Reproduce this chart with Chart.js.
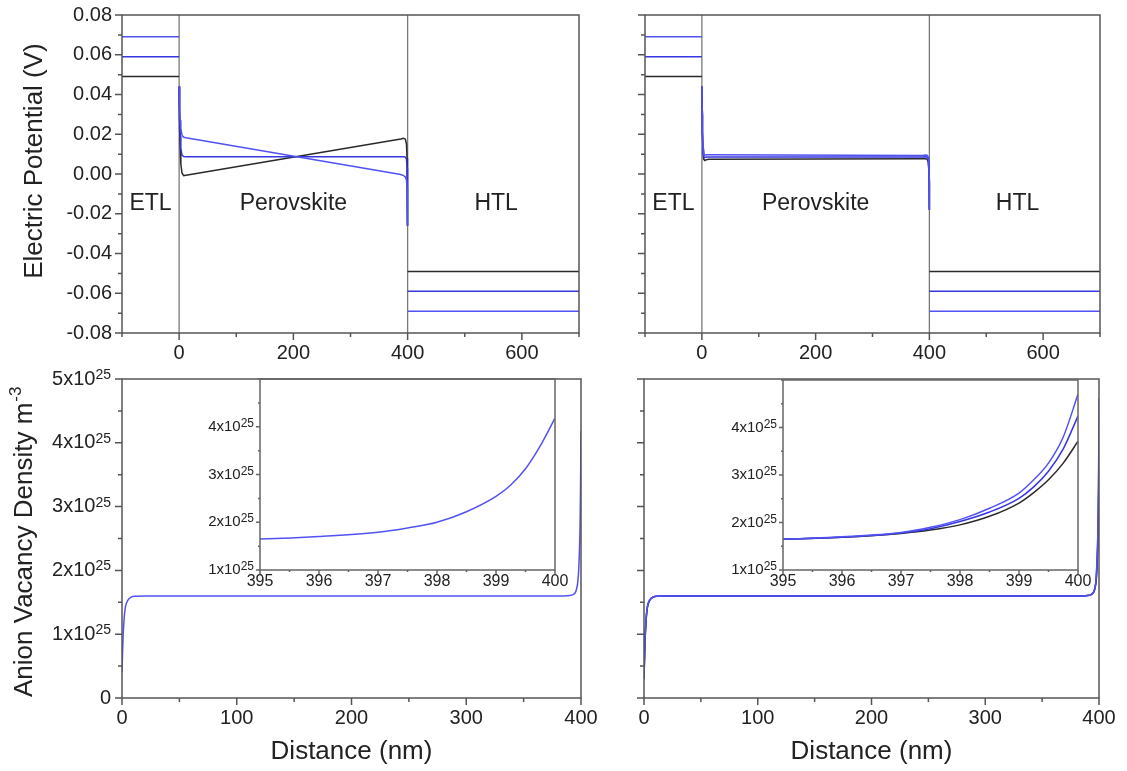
<!DOCTYPE html>
<html>
<head>
<meta charset="utf-8">
<title>Electric potential and anion vacancy density</title>
<script src="https://cdn.jsdelivr.net/npm/chart.js@4.4.0/dist/chart.umd.min.js"></script>
<style>
  body { margin: 0; background: #fff; }
  #fig { position: relative; width: 1127px; height: 771px; overflow: hidden; background: #fff; }
  #fig canvas { position: absolute; }
</style>
</head>
<body>
<div id="fig">
  <canvas id="potLeft" width="595" height="385" style="left:0;top:0"></canvas>
  <canvas id="potRight" width="527" height="385" style="left:600px;top:0"></canvas>
  <canvas id="vacLeft" width="600" height="411" style="left:0;top:360px"></canvas>
  <canvas id="vacRight" width="527" height="411" style="left:600px;top:360px"></canvas>
  <canvas id="zoomLeft" width="400" height="250" style="left:180px;top:360px"></canvas>
  <canvas id="zoomRight" width="400" height="250" style="left:703px;top:360px"></canvas>
</div>
<script>
const FONT = "'Liberation Sans', Arial, Helvetica, sans-serif";
const INK = '#222';
const BLACK = '#2a2a2a';
const BLUE_A = '#3535e2';
const BLUE_B = '#5252f3';
const GRAY = '#7a7a7a';

// ---- top row: electric potential (V) vs distance (nm) ----
const distMin = -100, distMax = 700;
const potMin = -0.08, potMax = 0.08;
const potTicks = [-0.08, -0.06, -0.04, -0.02, 0, 0.02, 0.04, 0.06, 0.08];
const distTicksTop = [0, 200, 400, 600];
const layerEdges = [0, 400];
const layerNames = ['ETL', 'Perovskite', 'HTL'];
const layerNameX = [-50, 200, 555];
const layerNameY = -0.015;

const etlX = [-100, 0];
const htlX = [400, 700];
const etlLevel = [0.049, 0.059, 0.069];      // black, blue, blue
const htlLevel = [-0.049, -0.059, -0.069];

const pvkX = [0, 0.5, 1, 2, 3, 5, 8, 12, 388, 393, 396, 398, 399, 399.5, 400];
const potL_black = [0.044, 0.033, 0.024, 0.012, 0.005, 0.0005, -0.0008, -0.0006, 0.0176, 0.018, 0.0175, 0.015, 0.008, -0.004, -0.026];
const potL_blue1 = [0.044, 0.035, 0.028, 0.019, 0.013, 0.0095, 0.0088, 0.0087, 0.0087, 0.0087, 0.0085, 0.0075, 0.003, -0.006, -0.026];
const potL_blue2 = [0.044, 0.038, 0.033, 0.027, 0.023, 0.0195, 0.0185, 0.0182, -0.0003, -0.0008, -0.0015, -0.003, -0.007, -0.012, -0.026];
const potR_black = [0.044, 0.030, 0.020, 0.011, 0.0075, 0.0068, 0.0072, 0.0074, 0.0077, 0.0077, 0.0074, 0.006, 0.002, -0.004, -0.018];
const potR_blue1 = [0.044, 0.031, 0.021, 0.012, 0.0088, 0.0082, 0.0085, 0.0086, 0.0086, 0.0087, 0.0085, 0.007, 0.003, -0.003, -0.018];
const potR_blue2 = [0.044, 0.032, 0.022, 0.013, 0.0098, 0.0095, 0.0097, 0.0097, 0.0093, 0.0095, 0.0094, 0.0085, 0.005, -0.002, -0.018];

// ---- bottom row: anion vacancy density (m^-3) vs distance (nm) ----
const posMin = 0, posMax = 400;
const vacMin = 0, vacMax = 5e25;
const posTicks = [0, 100, 200, 300, 400];
const vacTicks = [0, 1e25, 2e25, 3e25, 4e25, 5e25];
const zoomMin = 395, zoomMax = 400;
const zoomVacMin = 1e25, zoomVacMax = 5e25;
const zoomXTicks = [395, 396, 397, 398, 399, 400];
const zoomYTicks = [1e25, 2e25, 3e25, 4e25];

const vacX = [0, 0.5, 1, 2, 3, 5, 8, 12, 20, 385, 390, 393, 395, 396, 397, 397.5, 398, 398.5, 399, 399.25, 399.5, 399.75, 400];
const vacL = [0.40e25, 0.72e25, 0.98e25, 1.28e25, 1.43e25, 1.53e25, 1.58e25, 1.595e25, 1.6e25, 1.6e25, 1.605e25, 1.62e25, 1.65e25, 1.70e25, 1.79e25, 1.88e25, 2.0e25, 2.22e25, 2.54e25, 2.78e25, 3.12e25, 3.6e25, 4.18e25];
const vacR_black = [0.30e25, 0.62e25, 0.92e25, 1.25e25, 1.42e25, 1.53e25, 1.58e25, 1.595e25, 1.6e25, 1.6e25, 1.605e25, 1.62e25, 1.65e25, 1.69e25, 1.77e25, 1.84e25, 1.95e25, 2.13e25, 2.41e25, 2.63e25, 2.90e25, 3.25e25, 3.71e25];
const vacR_blue1 = [0.33e25, 0.66e25, 0.95e25, 1.27e25, 1.43e25, 1.53e25, 1.58e25, 1.595e25, 1.6e25, 1.6e25, 1.605e25, 1.62e25, 1.65e25, 1.69e25, 1.78e25, 1.87e25, 2.02e25, 2.22e25, 2.51e25, 2.75e25, 3.08e25, 3.55e25, 4.24e25];
const vacR_blue2 = [0.36e25, 0.70e25, 0.98e25, 1.29e25, 1.44e25, 1.54e25, 1.58e25, 1.595e25, 1.6e25, 1.6e25, 1.605e25, 1.62e25, 1.65e25, 1.70e25, 1.79e25, 1.90e25, 2.06e25, 2.30e25, 2.62e25, 2.90e25, 3.25e25, 3.80e25, 4.70e25];


function isIn(v, arr) {
  return arr.some(a => Math.abs(a - v) <= Math.abs(a) * 1e-9 + 1e-12);
}

// frame, outward major/minor ticks, superscript labels and free text
const decor = {
  id: 'decor',
  afterDraw(chart, args, o) {
    const { ctx, chartArea: a, scales: { x, y } } = chart;
    ctx.save();
    ctx.strokeStyle = o.edge;
    ctx.lineWidth = 1.5;
    ctx.strokeRect(a.left, a.top, a.right - a.left, a.bottom - a.top);

    ctx.beginPath();
    x.ticks.forEach(t => {
      const p = x.getPixelForValue(t.value);
      const len = isIn(t.value, o.xMajor) ? o.major : o.minor;
      ctx.moveTo(p, a.bottom);
      ctx.lineTo(p, a.bottom + len);
    });
    y.ticks.forEach(t => {
      const p = y.getPixelForValue(t.value);
      const len = isIn(t.value, o.yMajor) ? o.major : o.minor;
      ctx.moveTo(a.left, p);
      ctx.lineTo(a.left - len, p);
    });
    ctx.stroke();

    ctx.fillStyle = INK;
    if (o.sci) {
      const right = a.left - o.sci.gap;
      y.ticks.forEach(t => {
        if (!isIn(t.value, o.sci.labels)) return;
        const p = y.getPixelForValue(t.value);
        ctx.textBaseline = 'middle';
        if (t.value === 0) {
          ctx.font = `${o.sci.size}px ${FONT}`;
          ctx.textAlign = 'right';
          ctx.fillText('0', right, p);
          return;
        }
        const exp = Math.floor(Math.log10(t.value) + 1e-9);
        const man = Math.round(t.value / Math.pow(10, exp));
        ctx.font = `${o.sci.sup}px ${FONT}`;
        const sw = ctx.measureText(String(exp)).width;
        ctx.textAlign = 'left';
        ctx.textBaseline = 'alphabetic';
        ctx.fillText(String(exp), right - sw, p + o.sci.rise);
        ctx.font = `${o.sci.size}px ${FONT}`;
        ctx.textAlign = 'right';
        ctx.textBaseline = 'middle';
        ctx.fillText(`${man}x10`, right - sw, p);
      });
    }

    if (o.regions) {
      ctx.font = `23px ${FONT}`;
      ctx.textAlign = 'center';
      ctx.textBaseline = 'middle';
      layerNames.forEach((n, i) => {
        ctx.fillText(n, x.getPixelForValue(layerNameX[i]), y.getPixelForValue(layerNameY));
      });
    }

    if (o.yTitle) {
      const t = o.yTitle;
      ctx.translate(t.x, t.y);
      ctx.rotate(-Math.PI / 2);
      ctx.font = `26px ${FONT}`;
      ctx.textBaseline = 'middle';
      ctx.textAlign = t.sup ? 'left' : 'center';
      ctx.fillText(t.text, 0, 0);
      if (t.sup) {
        const w = ctx.measureText(t.text).width;
        ctx.font = `17px ${FONT}`;
        ctx.textAlign = 'left';
        ctx.fillText(t.sup, w + 1, -9);
      }
    }
    ctx.restore();
  }
};

function axis(o) {
  return {
    type: 'linear',
    position: o.pos,
    min: o.min,
    max: o.max,
    grid: { display: false, drawTicks: false },
    border: { display: false },
    afterBuildTicks(s) {
      const n = Math.round((o.max - o.min) / o.step);
      const vals = [];
      for (let i = 0; i <= n; i++) vals.push(Math.round((o.min + i * o.step) / o.step) * o.step);
      s.ticks = vals.map(value => ({ value }));
    },
    ticks: {
      display: !!o.fmt,
      autoSkip: false,
      maxRotation: 0,
      padding: o.pad || 0,
      color: INK,
      font: { family: FONT, size: o.size || 20 },
      callback: v => (o.fmt && isIn(v, o.labels)) ? o.fmt(v) : ''
    },
    title: o.title
      ? { display: true, text: o.title, color: INK, font: { family: FONT, size: 26 }, padding: { top: 0, bottom: 4 } }
      : { display: false },
    afterFit(s) {
      if (s.isHorizontal()) s.height = o.thick; else s.width = o.thick;
      s.paddingLeft = s.paddingRight = s.paddingTop = s.paddingBottom = 0;
    }
  };
}

function lineSet(points, color, order, extra) {
  return Object.assign({
    data: points, showLine: true, borderColor: color, borderWidth: 1.5,
    pointRadius: 0, tension: 0, fill: false, order
  }, extra || {});
}

function potentialSets(series) {
  const colors = [BLACK, BLUE_A, BLUE_B];
  const sets = layerEdges.map(e =>
    lineSet([{ x: e, y: potMin }, { x: e, y: potMax }], GRAY, 10, { borderWidth: 1.3 }));
  series.forEach((pvk, i) => {
    const pts = etlX.map(x => ({ x, y: etlLevel[i] }));
    pts.push({ x: 0, y: null });
    pvkX.forEach((x, j) => pts.push({ x, y: pvk[j] }));
    pts.push({ x: 400, y: null });
    htlX.forEach(x => pts.push({ x, y: htlLevel[i] }));
    sets.push(lineSet(pts, colors[i], 3 - i));
  });
  return sets;
}

function vacancySets(series, colors) {
  return series.map((vals, i) =>
    lineSet(vacX.map((x, j) => ({ x, y: vals[j] })), colors[i], series.length - i,
      { cubicInterpolationMode: 'monotone' }));
}

function makeChart(id, datasets, p) {
  return new Chart(document.getElementById(id), {
    type: 'scatter',
    data: { datasets },
    options: {
      responsive: false,
      animation: false,
      devicePixelRatio: 1,
      events: [],
      layout: { padding: Object.assign({ top: 0, right: 0, bottom: 0, left: 0 }, p.padding) },
      scales: { x: p.x, y: p.y },
      plugins: { legend: { display: false }, tooltip: { enabled: false }, decor: p.decor }
    },
    plugins: [decor]
  });
}

const potFmt = v => v.toFixed(2);
const intFmt = v => String(Math.round(v));

// top left
makeChart('potLeft', potentialSets([potL_black, potL_blue1, potL_blue2]), {
  padding: { top: 15, right: 16 },
  x: axis({ pos: 'bottom', min: distMin, max: distMax, step: 100, labels: distTicksTop, fmt: intFmt, pad: 8, thick: 52 }),
  y: axis({ pos: 'left', min: potMin, max: potMax, step: 0.01, labels: potTicks, fmt: potFmt, pad: 10, thick: 122 }),
  decor: { edge: '#555', major: 7, minor: 4, xMajor: distTicksTop, yMajor: potTicks, regions: true,
           yTitle: { text: 'Electric Potential (V)', x: 35, y: 161 } }
});

// top right
makeChart('potRight', potentialSets([potR_black, potR_blue1, potR_blue2]), {
  padding: { top: 15, right: 27 },
  x: axis({ pos: 'bottom', min: distMin, max: distMax, step: 100, labels: distTicksTop, fmt: intFmt, pad: 8, thick: 52 }),
  y: axis({ pos: 'left', min: potMin, max: potMax, step: 0.01, labels: potTicks, fmt: null, thick: 45 }),
  decor: { edge: '#555', major: 7, minor: 4, xMajor: distTicksTop, yMajor: potTicks, regions: true }
});

// bottom left
makeChart('vacLeft', vacancySets([vacL], [BLUE_B]), {
  padding: { top: 19, right: 19 },
  x: axis({ pos: 'bottom', min: posMin, max: posMax, step: 50, labels: posTicks, fmt: intFmt, pad: 8, thick: 73, title: 'Distance (nm)' }),
  y: axis({ pos: 'left', min: vacMin, max: vacMax, step: 0.5e25, labels: vacTicks, fmt: null, thick: 122 }),
  decor: { edge: '#555', major: 7, minor: 4, xMajor: posTicks, yMajor: vacTicks,
           sci: { labels: vacTicks, gap: 11, size: 20, sup: 14, rise: 0 },
           yTitle: { text: 'Anion Vacancy Density m', sup: '-3', x: 25, y: 337 } }
});

// bottom right
makeChart('vacRight', vacancySets([vacR_black, vacR_blue1, vacR_blue2], [BLACK, BLUE_A, BLUE_B]), {
  padding: { top: 19, right: 28 },
  x: axis({ pos: 'bottom', min: posMin, max: posMax, step: 50, labels: posTicks, fmt: intFmt, pad: 8, thick: 73, title: 'Distance (nm)' }),
  y: axis({ pos: 'left', min: vacMin, max: vacMax, step: 0.5e25, labels: vacTicks, fmt: null, thick: 44 }),
  decor: { edge: '#555', major: 7, minor: 4, xMajor: posTicks, yMajor: vacTicks }
});

// insets: last 5 nm before the HTL
makeChart('zoomLeft', vacancySets([vacL], [BLUE_B]), {
  padding: { top: 19, right: 25 },
  x: axis({ pos: 'bottom', min: zoomMin, max: zoomMax, step: 0.5, labels: zoomXTicks, fmt: intFmt, pad: 2, size: 16, thick: 40 }),
  y: axis({ pos: 'left', min: zoomVacMin, max: zoomVacMax, step: 0.5e25, labels: zoomYTicks, fmt: null, thick: 80 }),
  decor: { edge: '#666', major: 4, minor: 2, xMajor: zoomXTicks, yMajor: zoomYTicks,
           sci: { labels: zoomYTicks, gap: 6, size: 15, sup: 12, rise: 0 } }
});

makeChart('zoomRight', vacancySets([vacR_black, vacR_blue1, vacR_blue2], [BLACK, BLUE_A, BLUE_B]), {
  padding: { top: 20, right: 25 },
  x: axis({ pos: 'bottom', min: zoomMin, max: zoomMax, step: 0.5, labels: zoomXTicks, fmt: intFmt, pad: 2, size: 16, thick: 40 }),
  y: axis({ pos: 'left', min: zoomVacMin, max: zoomVacMax, step: 0.5e25, labels: zoomYTicks, fmt: null, thick: 80 }),
  decor: { edge: '#666', major: 4, minor: 2, xMajor: zoomXTicks, yMajor: zoomYTicks,
           sci: { labels: zoomYTicks, gap: 6, size: 15, sup: 12, rise: 0 } }
});
</script>
</body>
</html>
